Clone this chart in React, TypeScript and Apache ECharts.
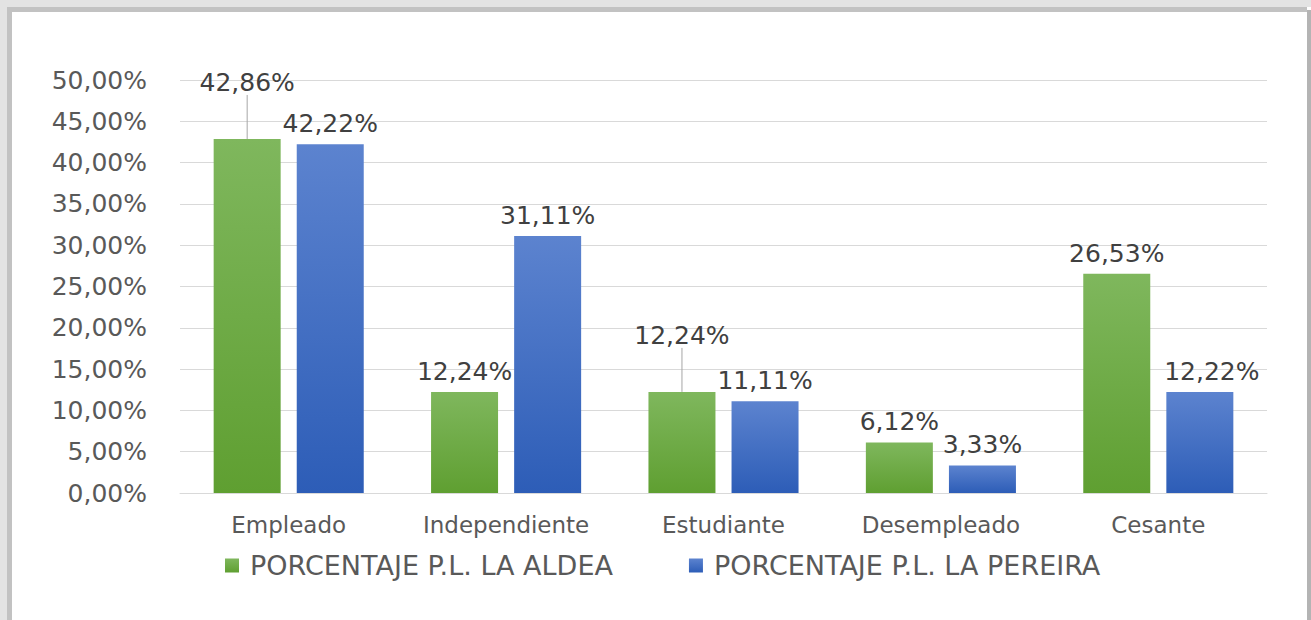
import React, { useEffect, useRef } from "react";
import * as echarts from "echarts";

const categories = ["Empleado", "Independiente", "Estudiante", "Desempleado", "Cesante"];
const aldea = [42.86, 12.24, 12.24, 6.12, 26.53];
const pereira = [42.22, 31.11, 11.11, 3.33, 12.22];
const seriesNames = ["PORCENTAJE P.L. LA ALDEA", "PORCENTAJE P.L. LA PEREIRA"];
// labels moved up with a leader line (series 0 data indices)
const movedLabels = [0, 2];

const FONT = "DejaVu Sans";
const fmt = (v: number) => v.toFixed(2).replace(".", ",") + "%";

export default function App() {
  const ref = useRef<HTMLDivElement>(null);
  useEffect(() => {
    if (!ref.current) return;
    const chart = echarts.init(ref.current, undefined, { renderer: "svg" });
    const green = new echarts.graphic.LinearGradient(0, 0, 0, 1, [
      { offset: 0, color: "#7fb75d" },
      { offset: 1, color: "#5f9f31" },
    ]);
    const blue = new echarts.graphic.LinearGradient(0, 0, 0, 1, [
      { offset: 0, color: "#5c83cf" },
      { offset: 1, color: "#2d5db7" },
    ]);
    const labelCfg = {
      show: true,
      position: "top",
      distance: 8,
      color: "#404040",
      fontFamily: FONT,
      fontSize: 25,
      formatter: (p: any) => fmt(p.value),
    };
    const aldeaData = aldea.map((v, i) => ({
      value: v,
      labelLine: { show: movedLabels.indexOf(i) >= 0 },
    }));
    chart.setOption({
      animation: false,
      backgroundColor: "#ffffff",
      textStyle: { fontFamily: FONT },
      graphic: [
        { type: "rect", shape: { x: 0, y: 0, width: 1311, height: 7 }, style: { fill: "#e3e3e3" }, silent: true },
        { type: "rect", shape: { x: 0, y: 0, width: 7, height: 620 }, style: { fill: "#e3e3e3" }, silent: true },
        { type: "rect", shape: { x: 7, y: 7, width: 1300, height: 5 }, style: { fill: "#c2c2c2" }, silent: true },
        { type: "rect", shape: { x: 7, y: 7, width: 5, height: 613 }, style: { fill: "#c2c2c2" }, silent: true },
        { type: "rect", shape: { x: 1307, y: 10, width: 4, height: 610 }, style: { fill: "#b4b4b4" }, silent: true },
      ],
      grid: { left: 180, right: 44, top: 80, bottom: 127, containLabel: false },
      legend: {
        data: seriesNames,
        bottom: 36,
        left: 220,
        icon: "rect",
        itemWidth: 14,
        itemHeight: 14,
        itemGap: 76,
        textStyle: { fontFamily: FONT, fontSize: 27, color: "#595959", padding: [0, 0, 0, 6] },
      },
      xAxis: {
        type: "category",
        data: categories,
        axisTick: { show: false },
        axisLine: { lineStyle: { color: "#d9d9d9", width: 1 } },
        axisLabel: { fontFamily: FONT, fontSize: 23, color: "#595959", margin: 20 },
      },
      yAxis: {
        type: "value",
        min: 0,
        max: 50,
        interval: 5,
        axisLine: { show: false },
        axisTick: { show: false },
        splitLine: { lineStyle: { color: "#d9d9d9", width: 1 } },
        axisLabel: { fontFamily: FONT, fontSize: 25, color: "#595959", margin: 33, formatter: (v: number) => fmt(v) },
      },
      series: [
        {
          name: seriesNames[0],
          type: "bar",
          data: aldeaData,
          barWidth: 67,
          barGap: "24%",
          itemStyle: { color: green },
          label: labelCfg,
          labelLine: { lineStyle: { color: "#a6a6a6", width: 1 } },
          labelLayout: (p: any) =>
            movedLabels.indexOf(p.dataIndex) >= 0 ? { dy: -36 } : {},
        },
        {
          name: seriesNames[1],
          type: "bar",
          data: pereira,
          barWidth: 67,
          barGap: "24%",
          itemStyle: { color: blue },
          label: labelCfg,
          labelLayout: (p: any) => (p.dataIndex === 4 ? { dx: 12 } : {}),
        },
      ],
    });
    return () => chart.dispose();
  }, []);
  return (
    <div
      ref={ref}
      style={{ position: "fixed", left: 0, top: 0, width: 1311, height: 620 }}
    />
  );
}
